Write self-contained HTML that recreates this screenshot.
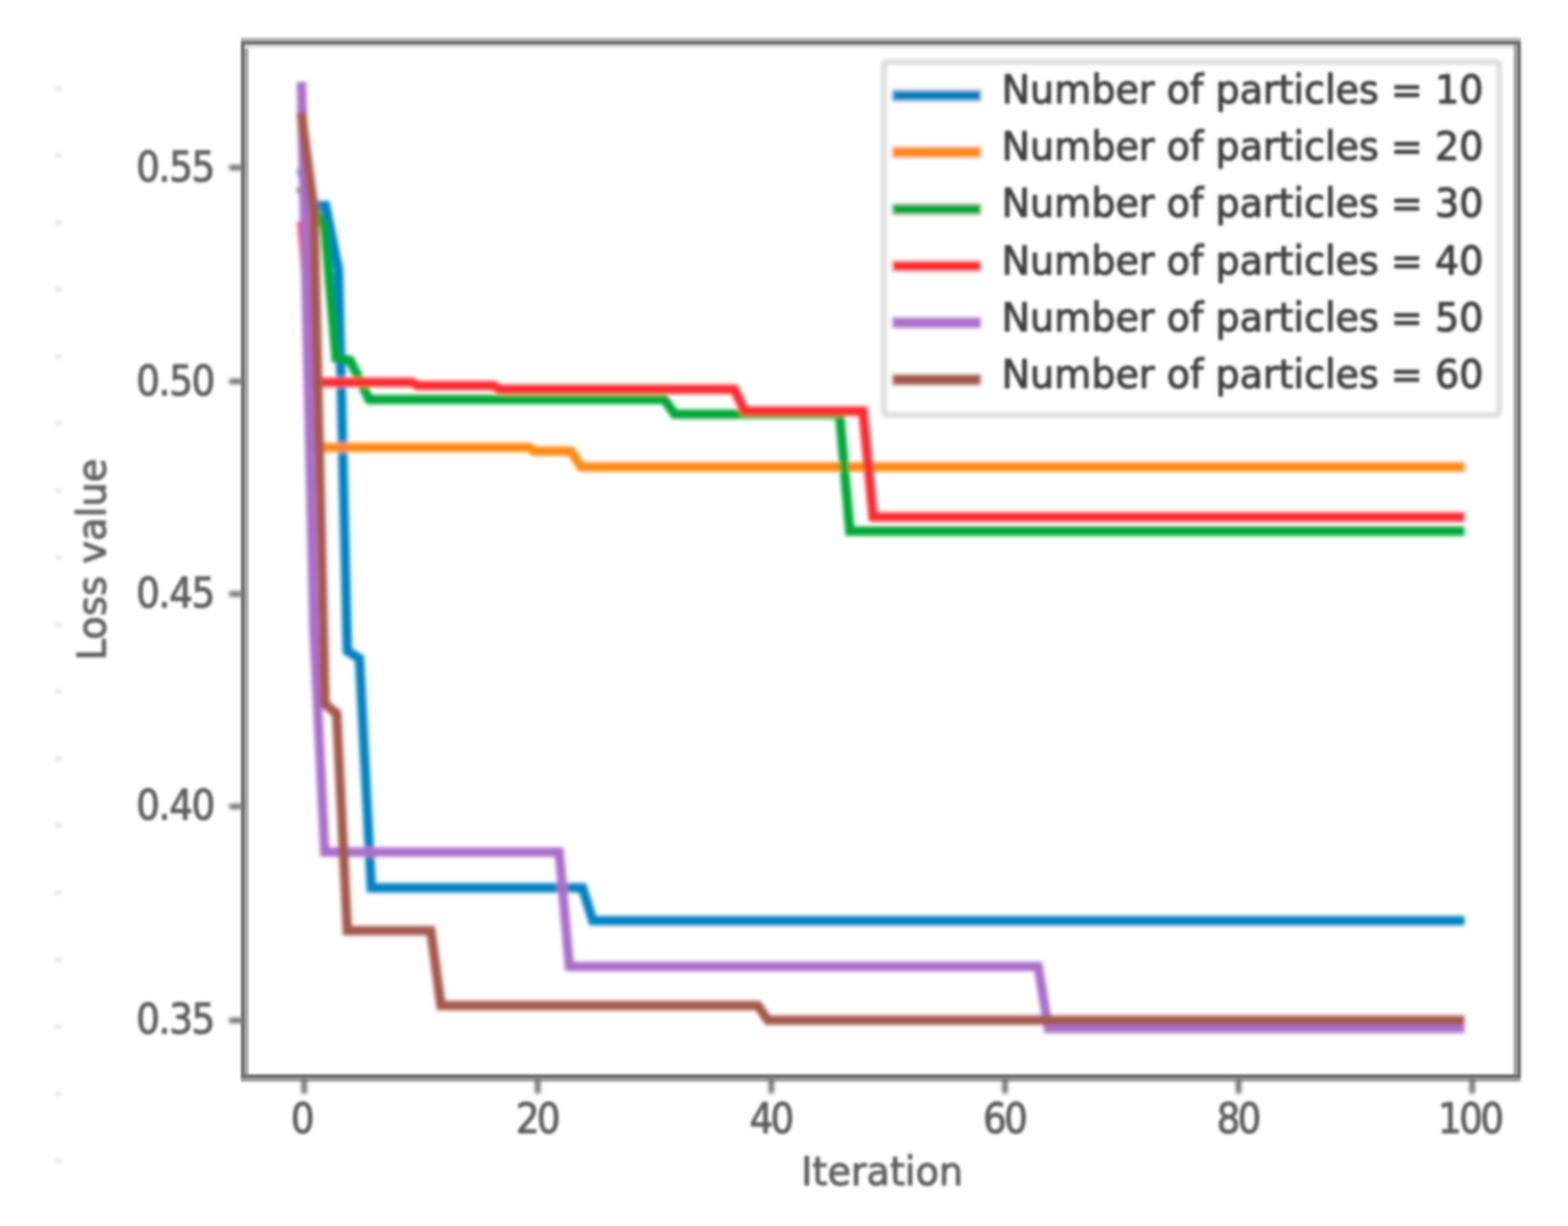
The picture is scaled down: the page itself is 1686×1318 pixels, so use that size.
<!DOCTYPE html>
<html lang="en"><head><meta charset="utf-8"><title>Loss value vs Iteration</title>
<style>
html,body{margin:0;padding:0;background:#fff;}
body{width:1686px;height:1318px;overflow:hidden;}
svg{display:block;}
text{font-family:"DejaVu Sans", "Liberation Sans", sans-serif;fill:#5e5e5e;stroke:#5e5e5e;stroke-width:1.0px;stroke-linejoin:round;}
.lg text{fill:#404040;stroke:#404040;stroke-width:1.1px;}
</style></head><body>
<svg width="1686" height="1318" viewBox="0 0 1686 1318">
<defs>
<filter id="b1" x="-5%" y="-5%" width="110%" height="110%"><feGaussianBlur stdDeviation="2.0"/></filter>
<filter id="b3" x="-5%" y="-5%" width="110%" height="110%"><feGaussianBlur stdDeviation="0.8"/></filter>
<filter id="b2" x="-5%" y="-5%" width="110%" height="110%"><feGaussianBlur stdDeviation="1.7"/></filter>
<clipPath id="ax"><rect x="263" y="48" width="1366" height="1109"/></clipPath>
</defs>
<rect x="0" y="0" width="1686" height="1318" fill="#ffffff"/>
<g fill="#dcdcdc" filter="url(#b1)">
<rect x="59" y="93.3" width="8" height="3.5"/>
<rect x="59" y="165.4" width="8" height="3.5"/>
<rect x="59" y="237.4" width="8" height="3.5"/>
<rect x="59" y="309.4" width="8" height="3.5"/>
<rect x="59" y="381.5" width="8" height="3.5"/>
<rect x="59" y="453.6" width="8" height="3.5"/>
<rect x="59" y="525.6" width="8" height="3.5"/>
<rect x="59" y="597.6" width="8" height="3.5"/>
<rect x="59" y="669.7" width="8" height="3.5"/>
<rect x="59" y="741.7" width="8" height="3.5"/>
<rect x="59" y="813.8" width="8" height="3.5"/>
<rect x="59" y="885.8" width="8" height="3.5"/>
<rect x="59" y="957.9" width="8" height="3.5"/>
<rect x="59" y="1030.0" width="8" height="3.5"/>
<rect x="59" y="1102.0" width="8" height="3.5"/>
<rect x="59" y="1174.0" width="8" height="3.5"/>
<rect x="59" y="1246.1" width="8" height="3.5"/>
</g>
<g clip-path="url(#ax)"><g filter="url(#b1)" fill="none" stroke-width="10.0" stroke-linejoin="miter" stroke-linecap="square">
<polyline stroke="#0682c2" points="325.0,186.0 337.6,221.0 350.1,221.0 364.0,290.0 373.5,700.0 386.5,708.0 399.3,954.4 626.4,954.4 637.4,989.8 1569.6,989.8"/>
<polyline stroke="#ff8a12" points="325.0,120.0 338.6,481.0 568.6,481.0 574.6,485.0 613.9,485.0 624.9,502.0 1569.6,502.0"/>
<polyline stroke="#06a738" points="325.0,205.0 344.6,236.0 349.1,243.0 361.5,385.0 376.5,387.5 397.0,429.5 714.4,429.5 725.4,445.3 902.8,445.3 913.8,571.0 1569.6,571.0"/>
<polyline stroke="#fb2a30" points="325.0,243.0 338.6,411.0 443.0,411.0 449.0,414.4 531.0,414.4 537.0,418.6 789.7,418.6 800.7,442.0 927.9,442.0 938.9,555.8 1569.6,555.8"/>
<polyline stroke="#ab6ecb" points="324.2,93.0 337.5,676.0 349.2,916.0 601.3,916.0 612.3,1039.0 1116.3,1039.0 1127.3,1105.5 1569.6,1105.5"/>
<polyline stroke="#a4584c" points="324.5,126.0 337.5,225.0 349.5,757.0 362.0,767.0 373.5,1000.5 463.2,1000.5 474.2,1081.0 814.8,1081.0 825.8,1096.8 1569.6,1096.8"/>
</g></g>
<g filter="url(#b1)">
<rect x="950.5" y="66.5" width="661.5" height="379.5" rx="3" ry="3" fill="#ffffff" fill-opacity="0.85" stroke="#dcdcdc" stroke-width="6"/>
<line x1="959.5" y1="102.7" x2="1055" y2="102.7" stroke="#0682c2" stroke-width="12.0"/>
<line x1="959.5" y1="163.8" x2="1055" y2="163.8" stroke="#ff8a12" stroke-width="12.0"/>
<line x1="959.5" y1="224.9" x2="1055" y2="224.9" stroke="#06a738" stroke-width="12.0"/>
<line x1="959.5" y1="286.0" x2="1055" y2="286.0" stroke="#fb2a30" stroke-width="12.0"/>
<line x1="959.5" y1="347.1" x2="1055" y2="347.1" stroke="#ab6ecb" stroke-width="12.0"/>
<line x1="959.5" y1="408.2" x2="1055" y2="408.2" stroke="#a4584c" stroke-width="12.0"/>
</g>
<g class="lg" filter="url(#b2)" font-size="42.3px">
<text x="1077" y="111.2" textLength="518" lengthAdjust="spacingAndGlyphs">Number of particles = 10</text>
<text x="1077" y="172.3" textLength="518" lengthAdjust="spacingAndGlyphs">Number of particles = 20</text>
<text x="1077" y="233.4" textLength="518" lengthAdjust="spacingAndGlyphs">Number of particles = 30</text>
<text x="1077" y="294.5" textLength="518" lengthAdjust="spacingAndGlyphs">Number of particles = 40</text>
<text x="1077" y="355.6" textLength="518" lengthAdjust="spacingAndGlyphs">Number of particles = 50</text>
<text x="1077" y="416.7" textLength="518" lengthAdjust="spacingAndGlyphs">Number of particles = 60</text>
</g>
<g filter="url(#b3)" fill="none">
<line x1="265.2" y1="46" x2="265.2" y2="1159" stroke="#a8a8a8" stroke-width="4"/>
<line x1="259" y1="42.4" x2="1635.3" y2="42.4" stroke="#b8b8b8" stroke-width="4"/>
<line x1="263" y1="50.2" x2="1631" y2="50.2" stroke="#e4e4e4" stroke-width="4"/>
<line x1="1629.3" y1="46" x2="1629.3" y2="1159" stroke="#a8a8a8" stroke-width="4"/>
<line x1="259" y1="1161" x2="1635.3" y2="1161" stroke="#a6a6a6" stroke-width="4"/>
<rect x="261.1" y="46.2" width="1372.2" height="1110.8" stroke="#707070" stroke-width="4.2"/>
</g>
<g filter="url(#b1)" stroke="#6c6c6c" stroke-width="5.6">
<line x1="246.5" y1="180.2" x2="261" y2="180.2"/>
<line x1="246.5" y1="410.0" x2="261" y2="410.0"/>
<line x1="246.5" y1="638.6" x2="261" y2="638.6"/>
<line x1="246.5" y1="867.0" x2="261" y2="867.0"/>
<line x1="246.5" y1="1097.0" x2="261" y2="1097.0"/>
<line x1="327.0" y1="1159" x2="327.0" y2="1175.5"/>
<line x1="578.2" y1="1159" x2="578.2" y2="1175.5"/>
<line x1="829.4" y1="1159" x2="829.4" y2="1175.5"/>
<line x1="1080.6" y1="1159" x2="1080.6" y2="1175.5"/>
<line x1="1331.8" y1="1159" x2="1331.8" y2="1175.5"/>
<line x1="1583.0" y1="1159" x2="1583.0" y2="1175.5"/>
</g>
<g filter="url(#b2)" font-size="40px">
<text transform="translate(231.5 194.7) scale(1 1.1)" text-anchor="end" textLength="85" lengthAdjust="spacing">0.55</text>
<text transform="translate(231.5 424.5) scale(1 1.1)" text-anchor="end" textLength="85" lengthAdjust="spacing">0.50</text>
<text transform="translate(231.5 653.1) scale(1 1.1)" text-anchor="end" textLength="85" lengthAdjust="spacing">0.45</text>
<text transform="translate(231.5 881.5) scale(1 1.1)" text-anchor="end" textLength="85" lengthAdjust="spacing">0.40</text>
<text transform="translate(231.5 1111.5) scale(1 1.1)" text-anchor="end" textLength="85" lengthAdjust="spacing">0.35</text>
<text transform="translate(325.5 1218) scale(1 1.1)" text-anchor="middle">0</text>
<text transform="translate(578.7 1218) scale(1 1.1)" text-anchor="middle" textLength="48" lengthAdjust="spacing">20</text>
<text transform="translate(829.9 1218) scale(1 1.1)" text-anchor="middle" textLength="48" lengthAdjust="spacing">40</text>
<text transform="translate(1081.1 1218) scale(1 1.1)" text-anchor="middle" textLength="48" lengthAdjust="spacing">60</text>
<text transform="translate(1332.3 1218) scale(1 1.1)" text-anchor="middle" textLength="48" lengthAdjust="spacing">80</text>
<text transform="translate(1581.7 1218) scale(1 1.1)" text-anchor="middle" textLength="71" lengthAdjust="spacing">100</text>
</g>
<g filter="url(#b2)" font-size="43px">
<text x="948.5" y="1273.5" text-anchor="middle" textLength="174" lengthAdjust="spacingAndGlyphs">Iteration</text>
<text transform="translate(113.5 601.5) rotate(-90)" text-anchor="middle" textLength="217" lengthAdjust="spacingAndGlyphs">Loss value</text>
</g>
</svg>
</body></html>
